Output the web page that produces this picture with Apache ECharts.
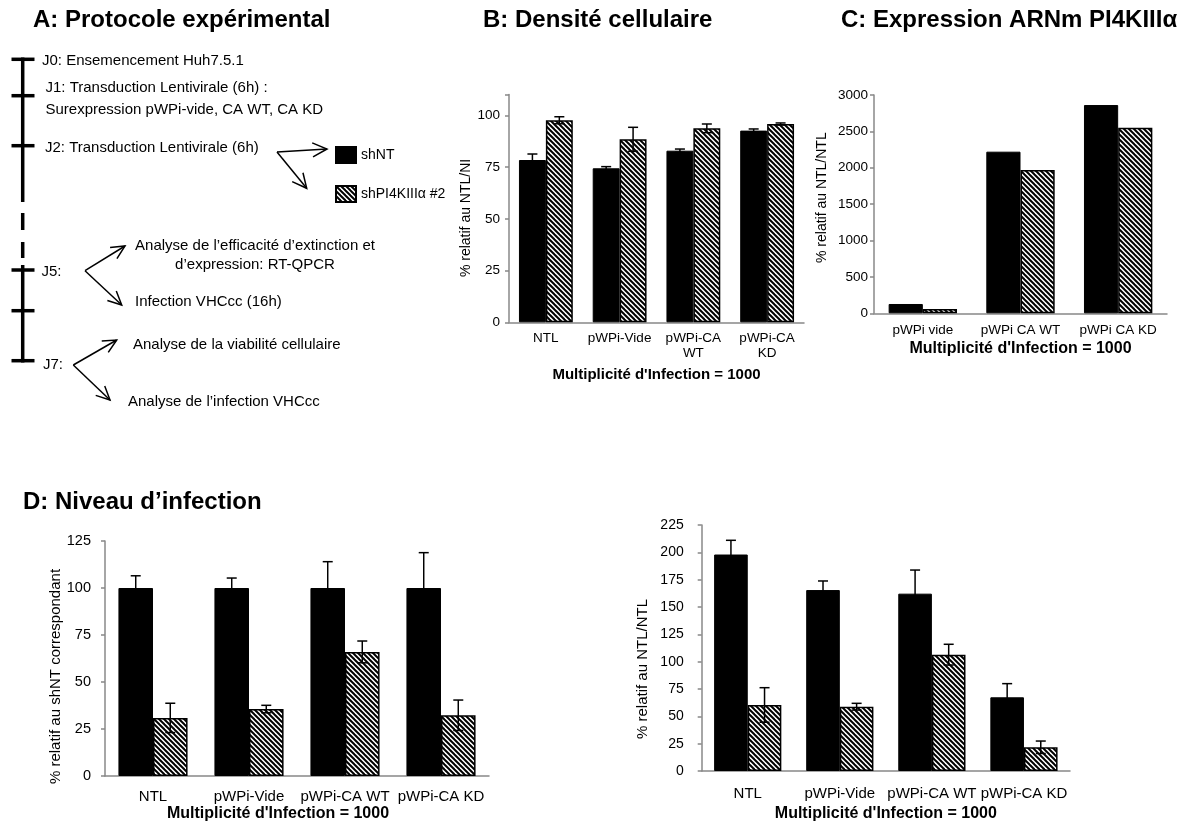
<!DOCTYPE html>
<html>
<head>
<meta charset="utf-8">
<title>Protocole et résultats</title>
<script src="https://cdn.jsdelivr.net/npm/echarts@6/dist/echarts.min.js"></script>
<style>
html,body{margin:0;padding:0;background:#fff;}
#main{width:1181px;height:825px;}
</style>
</head>
<body>
<div id="main"></div>
<script>
// B: densite cellulaire
var catB=['NTL','pWPi-Vide','pWPi-CA\nWT','pWPi-CA\nKD'];
var densNT=[78.4,74.4,82.9,92.6];
var densNT_err=[2.9,0.8,0.8,0.8];
var densPI=[97.6,88.4,93.7,95.8];
var densPI_err=[1.7,5.8,2.1,0.5];
// C: expression ARNm
var catC=['pWPi vide','pWPi CA WT','pWPi CA KD'];
var arnNT=[128,2221,2862];
var arnPI=[59,1969,2551];
// D: niveau d'infection
var catD=['NTL','pWPi-Vide','pWPi-CA WT','pWPi-CA KD'];
var infNT=[100,100,100,100];
var infNT_err=[6.5,5.3,14,18.8];
var infPI=[30.9,35.6,66,32.3];
var infPI_err=[7.8,2,5.8,8.1];
var ntlNT=[198,165.5,162.2,67.4];
var ntlNT_err=[13,8.3,21.6,12.5];
var ntlPI=[60.4,58.8,106.4,21.7];
var ntlPI_err=[15.8,3.1,9.5,5.7];
var ticksB=[0,110,25], ticksC=[0,3000,500], ticksD1=[0,125,25], ticksD2=[0,225,25];

var FONT='"Liberation Sans", Arial, sans-serif';
var nt='shNT', pi='shPI4KIIIα #2';

function hatch(){
  var c=document.createElement('canvas');
  c.width=5;c.height=5;
  var ctx=c.getContext('2d');
  ctx.fillStyle='#fff';ctx.fillRect(0,0,5,5);
  ctx.strokeStyle='#000';ctx.lineWidth=2;
  [-5,0,5].forEach(function(o){
    ctx.beginPath();ctx.moveTo(-1,-1+o);ctx.lineTo(6,6+o);ctx.stroke();
  });
  return c;
}
var hatchFill={image:hatch(),repeat:'repeat'};

// panneau A : frise chronologique
var G=[];
function seg(x1,y1,x2,y2,w){
  G.push({type:'line',shape:{x1:x1,y1:y1,x2:x2,y2:y2},style:{stroke:'#000',lineWidth:w}});
}
function arrow(x1,y1,x2,y2,L){
  seg(x1,y1,x2,y2,1.5);
  var a=Math.atan2(y2-y1,x2-x1),s=0.45;
  G.push({type:'polyline',shape:{points:[[x2-L*Math.cos(a-s),y2-L*Math.sin(a-s)],[x2,y2],[x2-L*Math.cos(a+s),y2-L*Math.sin(a+s)]]},
    style:{stroke:'#000',lineWidth:1.5,fill:null}});
}
function txt(x,y,s,al){
  G.push({type:'text',x:x,y:y,style:{text:s,fill:'#000',fontSize:15,fontFamily:FONT,
    align:al||'left',textAlign:al||'left',verticalAlign:'middle',textVerticalAlign:'middle',lineHeight:19}});
}
seg(22.7,57.5,22.7,202,3.5);
seg(22.7,213,22.7,230,3.5);
seg(22.7,242,22.7,258,3.5);
seg(22.7,265,22.7,362.5,3.5);
[59.3,95.7,145.7,270,310.7,360.7].forEach(function(y){seg(11.5,y,34.5,y,3.5);});
txt(42,61,'J0: Ensemencement Huh7.5.1');
txt(45.5,88,'J1: Transduction Lentivirale (6h) :');
txt(45.5,110,'Surexpression pWPi-vide, CA WT, CA KD');
txt(45,148,'J2: Transduction Lentivirale (6h)');
arrow(277,152,327,149,16);
arrow(277,152,306.7,188.3,16);
txt(41.5,272,'J5:');
arrow(85,270.7,125,246,15);
arrow(85,270.7,121.7,305,15);
txt(255,255.5,'Analyse de l’efficacité d’extinction et\nd’expression: RT-QPCR','center');
txt(135,301.7,'Infection VHCcc (16h)');
txt(43,365,'J7:');
arrow(73.3,365,116.7,340,15);
arrow(73.3,365,110,400,15);
txt(133,345,'Analyse de la viabilité cellulaire');
txt(128,401.7,'Analyse de l’infection VHCcc');

function errSeries(idx,vals,errs,side,gap){
  return {
    type:'custom',xAxisIndex:idx,yAxisIndex:idx,z:5,silent:true,
    data:vals.map(function(v,i){return [i,v,errs[i]];}),
    encode:{x:0,y:1},
    renderItem:function(params,api){
      var i=api.value(0),v=api.value(1),e=api.value(2);
      var w=api.size([1,0])[0];
      var bw=w*(1-gap)/2;
      var x=api.coord([i,v])[0]+side*bw/2;
      var top=api.coord([i,v+e])[1],bot=api.coord([i,v-e])[1];
      var st={stroke:'#000',lineWidth:1.5};
      return {type:'group',children:[
        {type:'line',shape:{x1:x,y1:top,x2:x,y2:bot},style:st},
        {type:'line',shape:{x1:x-5,y1:top,x2:x+5,y2:top},style:st},
        {type:'line',shape:{x1:x-5,y1:bot,x2:x+5,y2:bot},style:st}
      ]};
    }
  };
}
function bars(idx,ntVals,piVals,gap){
  return [
    {name:nt,type:'bar',xAxisIndex:idx,yAxisIndex:idx,data:ntVals,barGap:'0%',barCategoryGap:(gap*100)+'%',
      itemStyle:{color:'#000',borderColor:'#000',borderWidth:1}},
    {name:pi,type:'bar',xAxisIndex:idx,yAxisIndex:idx,data:piVals,barGap:'0%',barCategoryGap:(gap*100)+'%',
      itemStyle:{color:hatchFill,borderColor:'#000',borderWidth:1.5}}
  ];
}
function xAx(idx,cats,fs,margin,gap,nfs,pad){
  return {type:'category',gridIndex:idx,data:cats,
    axisLine:{lineStyle:{color:'#888',width:1.5}},
    axisTick:{length:4,lineStyle:{color:'#888',width:1.5}},
    axisLabel:{color:'#000',fontSize:fs,fontFamily:FONT,margin:margin,interval:0,lineHeight:fs+2},
    name:"Multiplicité d'Infection = 1000",nameLocation:'middle',nameGap:gap,
    nameTextStyle:{color:'#000',fontSize:nfs,fontWeight:'bold',fontFamily:FONT,padding:pad||0}};
}
function yAx(idx,t,name,fs,margin,gap,nfs,pad){
  return {type:'value',gridIndex:idx,min:t[0],max:t[1],interval:t[2],
    splitLine:{show:false},
    axisLine:{show:true,lineStyle:{color:'#888',width:1.5}},
    axisTick:{show:true,length:4,lineStyle:{color:'#888',width:1.5}},
    axisLabel:{color:'#000',fontSize:fs,fontFamily:FONT,margin:margin,
      formatter:function(v){return v%t[2]===0?String(v):'';}},
    name:name,nameLocation:'middle',nameGap:gap,
    nameTextStyle:{color:'#000',fontSize:nfs,fontFamily:FONT,padding:pad}};
}
function ttl(text,x,y){
  return {text:text,left:x,top:y,padding:0,textStyle:{color:'#000',fontSize:24,fontWeight:'bold',fontFamily:FONT}};
}

var chart=echarts.init(document.getElementById('main'),null,{renderer:'canvas'});
chart.setOption({
  animation:false,
  backgroundColor:'#fff',
  title:[
    ttl('A: Protocole expérimental',33,8),
    ttl('B: Densité cellulaire',483,8),
    ttl('C: Expression ARNm PI4KIIIα',841,8),
    ttl('D: Niveau d’infection',23,490)
  ],
  legend:{data:[nt,pi],orient:'vertical',left:330,top:141,itemWidth:20,itemHeight:16,itemGap:21,icon:'rect',
    selectedMode:false,textStyle:{color:'#000',fontSize:14,fontFamily:FONT}},
  grid:[
    {left:509,top:94.6,width:295,height:227.7,outerBoundsMode:'none'},
    {left:874,top:95,width:293,height:218.3,outerBoundsMode:'none'},
    {left:105,top:541,width:384,height:235,outerBoundsMode:'none'},
    {left:701.7,top:525,width:368.3,height:246,outerBoundsMode:'none'}
  ],
  xAxis:[
    xAx(0,catB,13.5,8,45,15),
    xAx(1,catC,13.5,9,27,16),
    xAx(2,catD,15,12,30,16,[0,38,0,0]),
    xAx(3,catD,15,14,35,16)
  ],
  yAxis:[
    yAx(0,ticksB,'% relatif au NTL/NI',13.5,9,30,14,[0,19,0,0]),
    yAx(1,ticksC,'% relatif au NTL/NTL',13.5,6,45,14,[0,0,0,13]),
    yAx(2,ticksD1,'% relatif au shNT correspondant',14.5,14,39,15,[0,36,0,0]),
    yAx(3,ticksD2,'% relatif au NTL/NTL',14,18,51,15,[0,42,0,0])
  ],
  graphic:G,
  series:[].concat(
    bars(0,densNT,densPI,0.27),
    [errSeries(0,densNT,densNT_err,-1,0.27),errSeries(0,densPI,densPI_err,1,0.27)],
    bars(1,arnNT,arnPI,0.30),
    bars(2,infNT,infPI,0.28),
    [errSeries(2,infNT,infNT_err,-1,0.28),errSeries(2,infPI,infPI_err,1,0.28)],
    bars(3,ntlNT,ntlPI,0.27),
    [errSeries(3,ntlNT,ntlNT_err,-1,0.27),errSeries(3,ntlPI,ntlPI_err,1,0.27)]
  )
});
</script>
</body>
</html>
